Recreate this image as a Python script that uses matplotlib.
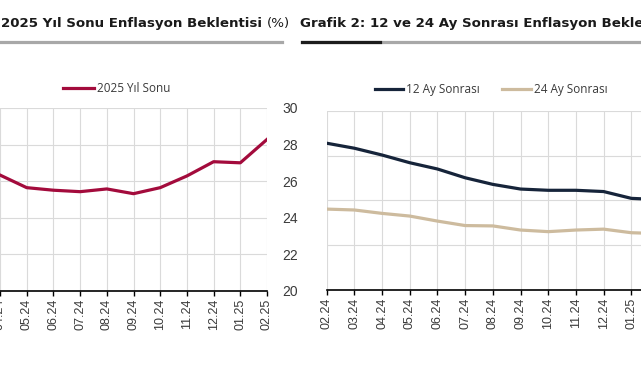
import matplotlib
matplotlib.use("Agg")
from matplotlib import pyplot as plt
from matplotlib import font_manager
from matplotlib.lines import Line2D

# Grafik 1: 2025 yil sonu beklentisi (gorunen kisim 04.24 - 02.25)
months_1 = ["04.24", "05.24", "06.24", "07.24", "08.24", "09.24",
            "10.24", "11.24", "12.24", "01.25", "02.25"]
yil_sonu_2025 = [26.33, 25.64, 25.50, 25.42, 25.57, 25.31,
                 25.64, 26.28, 27.06, 27.00, 28.28]

# Grafik 2: 12 ve 24 ay sonrasi beklenti
months_2 = ["02.24", "03.24", "04.24", "05.24", "06.24", "07.24", "08.24",
            "09.24", "10.24", "11.24", "12.24", "01.25", "02.25"]
ay_12 = [28.20, 27.92, 27.54, 27.11, 26.76, 26.27, 25.90,
         25.64, 25.57, 25.57, 25.50, 25.12, 25.05]
ay_24 = [24.52, 24.47, 24.28, 24.13, 23.85, 23.60, 23.58,
         23.35, 23.26, 23.35, 23.40, 23.20, 23.15]

W, H = 641, 380
RED = "#a30b3c"
NAVY = "#16243a"
TAN = "#cdbb9e"
GRID = "#dadada"
TXT = "#3a3a3a"

names = {f.name for f in font_manager.fontManager.ttflist}
tick_font = "Liberation Sans Narrow" if "Liberation Sans Narrow" in names else "Liberation Sans"


def px(x, y):
    # piksel -> figur koordinati
    return x / W, 1 - y / H


fig = plt.figure(figsize=(W / 100, H / 100), dpi=100)

# --- sol grafik ---
ax1 = fig.add_axes([0, 1 - 290.7 / H, 267 / W, (290.7 - 108) / H])
x1 = list(range(len(months_1)))
ax1.plot(x1, yil_sonu_2025, color=RED, lw=2.3, label="2025 Yıl Sonu",
         solid_joinstyle="round", zorder=3)
ax1.set_xlim(0, len(months_1) - 1)
ax1.set_ylim(20, 30)
ax1.set_xticks(x1)
ax1.set_xticklabels(months_1)
ax1.set_yticks([20, 22, 24, 26, 28, 30])
ax1.yaxis.tick_right()
ax1.tick_params(axis="y", length=0, pad=11, labelsize=10, labelcolor=TXT)

# --- sag grafik ---
ax2 = fig.add_axes([326.7 / W, 1 - 290 / H, (659 - 326.7) / W, (290 - 111) / H])
x2 = list(range(len(months_2)))
ax2.plot(x2, ay_12, color=NAVY, lw=2.3, label="12 Ay Sonrası",
         solid_joinstyle="round", zorder=3)
ax2.plot(x2, ay_24, color=TAN, lw=2.3, label="24 Ay Sonrası",
         solid_joinstyle="round", zorder=3)
ax2.set_xlim(0, len(months_2) - 1)
ax2.set_ylim(20, 30)
ax2.set_xticks(x2)
ax2.set_xticklabels(months_2)
ax2.set_yticks([20, 22.5, 25, 27.5, 30])
ax2.yaxis.tick_right()
ax2.tick_params(axis="y", length=0, pad=11, labelsize=10, labelcolor=TXT)

for ax in (ax1, ax2):
    for side in ("left", "right", "top"):
        ax.spines[side].set_visible(False)
    ax.spines["bottom"].set_color("black")
    ax.spines["bottom"].set_linewidth(1.2)
    ax.spines["bottom"].set_zorder(4)
    ax.grid(True, color=GRID, lw=0.8, zorder=0)
    ax.set_axisbelow(True)
    ax.tick_params(axis="x", length=3.5, width=1, color="black", pad=2,
                   labelsize=9, labelcolor=TXT, rotation=90)
    for lab in ax.get_xticklabels() + ax.get_yticklabels():
        lab.set_family(tick_font)
    ax.patch.set_alpha(0)

# legendlar
ax1.legend(loc="center left", bbox_to_anchor=px(63, 89), bbox_transform=fig.transFigure,
           frameon=False, borderpad=0, borderaxespad=0, handlelength=2.6,
           handletextpad=0.25, prop={"family": "Open Sans", "size": 8.5},
           labelcolor=TXT)
ax2.legend(loc="center left", bbox_to_anchor=px(375, 90), bbox_transform=fig.transFigure,
           frameon=False, borderpad=0, borderaxespad=0, handlelength=2.4,
           handletextpad=0.25, columnspacing=1.9, ncol=2,
           prop={"family": "Open Sans", "size": 8.5}, labelcolor=TXT)

# basliklar
t1 = fig.text(*px(1, 26.5), "2025 Yıl Sonu Enflasyon Beklentisi", fontsize=10,
              fontweight="bold", family="DejaVu Sans", va="baseline", color="#1a1a1a")
fig.canvas.draw()
fs = 10 * 260 / t1.get_window_extent().width
t1.set_fontsize(fs)
fig.text(*px(267, 26.5), "(%)", fontsize=fs, family="DejaVu Sans", va="baseline",
         color="#1a1a1a")
fig.text(*px(300, 26.5), "Grafik 2: 12 ve 24 Ay Sonrası Enflasyon Beklentisi (%)",
         fontsize=fs, fontweight="bold", family="DejaVu Sans", va="baseline",
         color="#1a1a1a")

# baslik alt cizgileri
fig.add_artist(Line2D([0, 282 / W], [1 - 41.5 / H] * 2, color="#a8a8a8", lw=2.3,
                      transform=fig.transFigure))
fig.add_artist(Line2D([302 / W, 1], [1 - 41.5 / H] * 2, color="#a8a8a8", lw=2.3,
                      transform=fig.transFigure))
fig.add_artist(Line2D([302 / W, 380 / W], [1 - 41.5 / H] * 2, color="#1c1c1c", lw=2.3,
                      transform=fig.transFigure))

fig.savefig("out.png", dpi=100)
